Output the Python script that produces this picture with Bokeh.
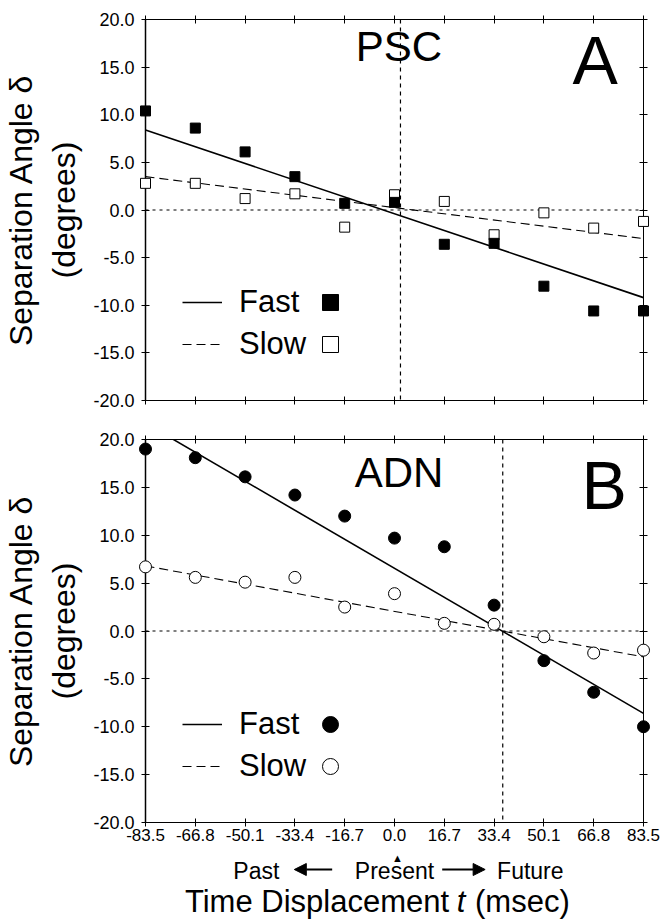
from bokeh.plotting import figure
from bokeh.layouts import column
from bokeh.models import (FixedTicker, LinearAxis, Span, Label, Legend,
                          LegendItem, Arrow, NormalHead)
from bokeh.embed import file_html
from bokeh.resources import INLINE

# ---------------- data ----------------
t_ms = [-83.5, -66.8, -50.1, -33.4, -16.7, 0.0, 16.7, 33.4, 50.1, 66.8, 83.5]
t_labels = ["-83.5", "-66.8", "-50.1", "-33.4", "-16.7", "0.0",
            "16.7", "33.4", "50.1", "66.8", "83.5"]
y_ticks = [-20, -15, -10, -5, 0, 5, 10, 15, 20]
y_labels = ["-20.0", "-15.0", "-10.0", "-5.0", "0.0", "5.0", "10.0", "15.0", "20.0"]

# Panel A : PSC
psc_fast = [10.4, 8.6, 6.1, 3.5, 0.7, 0.8, -3.6, -3.5, -8.0, -10.6, -10.6]
psc_slow = [2.8, 2.8, 1.2, 1.7, -1.8, 1.6, 0.9, -2.6, -0.3, -1.9, -1.2]
psc_fast_fit = [8.4, -9.2]     # fitted line at first / last time displacement
psc_slow_fit = [3.5, -3.0]
psc_zero_t = 2.0               # vertical reference line

# Panel B : ADN
adn_fast = [19.0, 18.1, 16.1, 14.2, 12.0, 9.7, 8.8, 2.7, -3.1, -6.4, -10.0]
adn_slow = [6.7, 5.6, 5.1, 5.6, 2.5, 3.9, 0.8, 0.7, -0.6, -2.3, -2.0]
adn_fast_fit = [21.7, -8.6]
adn_slow_fit = [6.8, -2.7]
adn_zero_t = 36.3

FONT = "Liberation Sans"
W = 663
B_LEFT = 144
B_RIGHT = 20


def style_axis(ax, ticks, labels, show_labels, size, standoff, width=1.0):
    ax.ticker = FixedTicker(ticks=ticks)
    ax.major_label_overrides = {k: v for k, v in zip(ticks, labels)}
    ax.major_tick_in = 4
    ax.major_tick_out = 4
    ax.minor_tick_line_color = None
    ax.axis_line_color = "black"
    ax.axis_line_width = width
    ax.major_tick_line_color = "black"
    ax.major_tick_line_width = 1
    ax.major_label_text_font = FONT
    if show_labels:
        ax.major_label_text_color = "black"
        ax.major_label_text_font_size = size
        ax.major_label_standoff = standoff
    else:
        ax.major_label_text_color = None
        ax.major_label_text_font_size = "0px"
        ax.major_label_standoff = 0


def make_panel(fast, slow, fast_fit, slow_fit, zero_t, name, letter, marker,
               msize, height, b_top, b_bottom, show_x, name_y, letter_x, letter_y):
    p = figure(width=W, height=height, x_range=(t_ms[0], t_ms[-1]),
               y_range=(y_ticks[0], y_ticks[-1]), output_backend="svg",
               toolbar_location=None, min_border_left=B_LEFT,
               min_border_right=B_RIGHT, min_border_top=b_top,
               min_border_bottom=b_bottom,
               background_fill_color="white", border_fill_color="white",
               outline_line_color="black", outline_line_width=1)
    p.grid.visible = False
    style_axis(p.xaxis[0], t_ms, t_labels, show_x, "17px", 2)
    style_axis(p.yaxis[0], y_ticks, y_labels, True, "18px", 7, width=1.5)
    ya = p.yaxis[0]
    ya.axis_label = "Separation Angle \u03b4\n(degrees)"
    ya.axis_label_text_font = FONT
    ya.axis_label_text_font_size = "32px"
    ya.axis_label_text_font_style = "normal"
    ya.axis_label_text_color = "black"
    ya.axis_label_text_align = "center"
    ya.axis_label_standoff = 8

    top = LinearAxis()
    style_axis(top, t_ms, t_labels, False, "0px", 0)
    p.add_layout(top, "above")
    right = LinearAxis()
    style_axis(right, y_ticks, y_labels, False, "0px", 0)
    p.add_layout(right, "right")

    p.add_layout(Span(location=0, dimension="width", line_color="black",
                      line_dash="3 4", line_width=1.2))
    p.add_layout(Span(location=zero_t, dimension="height", line_color="black",
                      line_dash="4 4", line_width=1.2))

    ends = [t_ms[0], t_ms[-1]]
    fast_line = p.line(ends, fast_fit, line_color="black", line_width=1.6)
    slow_line = p.line(ends, slow_fit, line_color="black", line_width=1.1,
                       line_dash="9 5")

    slow_pts = p.scatter(t_ms, slow, marker=marker, size=msize, fill_color="white",
                         line_color="black", line_width=1, level="overlay")
    fast_pts = p.scatter(t_ms, fast, marker=marker, size=msize, fill_color="black",
                         line_color="black", line_width=1, level="overlay")

    common = dict(orientation="vertical", glyph_width=40, glyph_height=40,
                  label_height=40, spacing=2, padding=0, margin=0,
                  label_text_font=FONT, label_text_font_size="31px",
                  label_text_color="black",
                  background_fill_alpha=0, border_line_alpha=0)
    leg1 = Legend(items=[LegendItem(label="Fast", renderers=[fast_line]),
                         LegendItem(label="Slow", renderers=[slow_line])],
                  location=(37, 36), label_standoff=17, **common)
    leg2 = Legend(items=[LegendItem(label=" ", renderers=[fast_pts]),
                         LegendItem(label=" ", renderers=[slow_pts])],
                  location=(165, 36), label_standoff=2, **common)
    p.add_layout(leg1)
    p.add_layout(leg2)

    p.add_layout(Label(x=1.5, y=name_y, text=name, text_font=FONT,
                       text_font_size="42px", text_align="center",
                       text_baseline="middle", text_color="black"))
    p.add_layout(Label(x=letter_x, y=letter_y, text=letter, text_font=FONT,
                       text_font_size="68px", text_align="center",
                       text_baseline="middle", text_color="black"))
    return p


p1 = make_panel(psc_fast, psc_slow, psc_fast_fit, psc_slow_fit, psc_zero_t,
                "PSC", "A", "square", 10, 419, 19, 19, False, 17.2, 67.3, 15.8)
p2 = make_panel(adn_fast, adn_slow, adn_fast_fit, adn_slow_fit, adn_zero_t,
                "ADN", "B", "circle", 12, 431, 20, 28, True, 16.6, 70.3, 15.3)

# strip under the bottom panel for the time-axis captions (y in pixels from bottom)
p3 = figure(width=W, height=70, x_range=p2.x_range, y_range=(0, 70),
            x_axis_location=None, y_axis_location=None, output_backend="svg",
            toolbar_location=None, min_border_left=B_LEFT,
            min_border_right=B_RIGHT, min_border_top=0, min_border_bottom=0,
            outline_line_color=None, background_fill_color="white",
            border_fill_color="white")
p3.grid.visible = False

txt = dict(text_font=FONT, text_color="black", text_baseline="middle")
p3.add_layout(Label(x=0.0, y=50.0, text="Present", text_font_size="23px",
                    text_align="center", **txt))
p3.add_layout(Label(x=-38.6, y=50.0, text="Past", text_font_size="23px",
                    text_align="right", **txt))
p3.add_layout(Label(x=34.4, y=50.0, text="Future", text_font_size="23px",
                    text_align="left", **txt))
p3.add_layout(Label(x=1.0, y=63.0, text="\u25b2", text_font_size="11px",
                    text_align="center", **txt))
for xs, xe in [(-20.9, -33.6), (16.0, 30.4)]:
    p3.add_layout(Arrow(end=NormalHead(size=12, fill_color="black",
                                       line_color="black"),
                        x_start=xs, y_start=51, x_end=xe, y_end=51,
                        line_color="black", line_width=2))
p3.add_layout(Label(x=18.3, y=19, text="Time Displacement",
                    text_font_size="31px", text_align="right", **txt))
p3.add_layout(Label(x=22.3, y=19, text="t", text_font_size="31px",
                    text_align="center", text_font_style="italic", **txt))
p3.add_layout(Label(x=27.0, y=19, text="(msec)", text_font_size="31px",
                    text_align="left", **txt))

layout = column(p1, p2, p3)
open("out.html", "w").write(file_html(layout, INLINE, title="Separation angle"))
